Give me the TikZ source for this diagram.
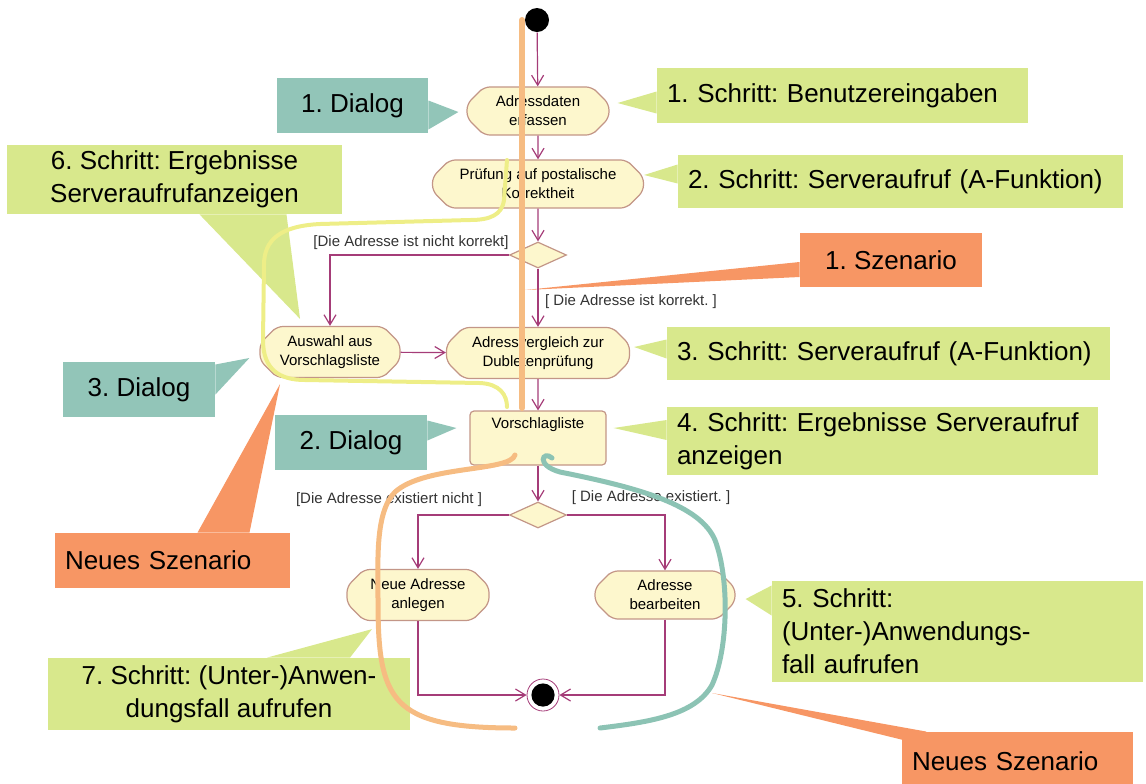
\documentclass[tikz,border=0pt]{standalone}
\usepackage{fontspec}
\setmainfont{Liberation Sans}
\usepackage{tikz}
\usetikzlibrary{
  shapes.geometric,
  shapes.misc,
  arrows.meta,
  positioning,
  calc,
  backgrounds
}
\frenchspacing
\definecolor{FlowPurple}{RGB}{165, 60, 120}
\definecolor{ActionFill}{RGB}{253, 247, 205}
\definecolor{ActionBorder}{RGB}{195, 150, 135}
\definecolor{DialogTeal}{RGB}{146, 197, 184}
\definecolor{StepGreen}{RGB}{216, 232, 140}
\definecolor{ScenarioOrange}{RGB}{247, 150, 100}
\definecolor{PathOrange}{RGB}{246, 188, 130}
\definecolor{PathYellow}{RGB}{238, 238, 135}
\definecolor{PathTeal}{RGB}{140, 195, 180}
\tikzset{
    action/.style={chamfered rectangle, chamfered rectangle xsep=5pt, rounded corners=3pt,
        draw=ActionBorder, fill=ActionFill, line width=0.6pt, align=center,
        font=\fontsize{7.5}{9.5}\selectfont, inner sep=1pt},
    decision/.style={diamond, aspect=2.2, draw=ActionBorder, fill=ActionFill, line width=0.6pt,
        minimum width=28.5pt, minimum height=13pt, inner sep=0pt},
    flow/.style={draw=FlowPurple, line width=0.6pt, -{Straight Barb[length=5pt, width=6pt]}},
    guard/.style={font=\fontsize{7.5}{9}\selectfont, text=black!80, inner sep=0pt},
    callout/.style={rectangle, inner xsep=5pt, inner ysep=2pt, font=\fontsize{13}{16.5}\selectfont},
    dialogbox/.style={callout, fill=DialogTeal, align=center},
    stepbox/.style={callout, fill=StepGreen, align=left},
    scenariobox/.style={callout, fill=ScenarioOrange, align=left},
    scenariopath/.style={line width=#1, line cap=round}
}

\begin{document}
\begin{tikzpicture}[x=0.5pt, y=-0.5pt]
\useasboundingbox (0,0) rectangle (1146,783);

\node[circle, fill=black, minimum size=12pt, inner sep=0pt] (start) at (537,20) {};
\node[action, minimum width=71pt, minimum height=19pt] (a1) at (538,111) {Adressdaten\\erfassen};
\node[action, minimum width=105.5pt, minimum height=19pt] (a2) at (538,184) {Prüfung auf postalische\\Korrektheit};
\node[decision] (dec1) at (538,255) {};
\node[action, minimum width=91.5pt, minimum height=20pt] (a3) at (538,353) {Adressvergleich zur\\Dubletenprüfung};
\node[action, minimum width=70pt, minimum height=20pt] (a4) at (330,352) {Auswahl aus\\Vorschlagsliste};
\node[rectangle, rounded corners=2pt, draw=ActionBorder, fill=ActionFill, line width=0.6pt,
    minimum width=68pt, inner ysep=3pt, text height=5.5pt, text depth=15.5pt,
    font=\fontsize{7.5}{9.5}\selectfont] (liste) at (538,438) {Vorschlagliste};
\node[decision] (dec2) at (538,515) {};
\node[action, minimum width=71pt, minimum height=19.5pt] (a5) at (418,595) {Neue Adresse\\anlegen};
\node[action, minimum width=70pt, minimum height=19.5pt] (a6) at (665,595) {Adresse\\bearbeiten};
\node[circle, draw=FlowPurple, fill=white, minimum size=16pt, inner sep=0pt,
    path picture={\fill[black] (path picture bounding box.center) circle (5.8pt);}] (stop) at (543,695) {};

\draw[flow] (start) -- (a1);
\draw[flow] (a1) -- (a2);
\draw[flow] (a2) -- (dec1);
\draw[flow] (dec1) -- (a3);
\draw[flow] (dec1.west) -| (a4.north);
\draw[flow] (a4) -- (a3);
\draw[flow] (a3) -- (liste);
\draw[flow] (liste) -- (dec2);
\draw[flow] (dec2.west) -| (a5.north);
\draw[flow] (dec2.east) -| (a6.north);
\draw[flow] (a5.south) |- (stop);
\draw[flow] (a6.south) |- (stop);

\node[guard] (g1) at (411,243) {[Die Adresse ist nicht korrekt]};
\node[guard] (g2) at (631,302) {[ Die Adresse ist korrekt. ]};
\node[guard] (g3) at (389,500) {[Die Adresse existiert nicht ]};
\node[guard] (g4) at (651,498) {[ Die Adresse existiert. ]};

\node[dialogbox, minimum width=75.5pt, minimum height=27.5pt] (dlg1) at (352.5,105.5) {1. Dialog};
\node[dialogbox, minimum width=76pt, minimum height=27.5pt] (dlg2) at (351,442.5) {2. Dialog};
\node[dialogbox, minimum width=76pt, minimum height=27.5pt] (dlg3) at (139,389.5) {3. Dialog};
\node[stepbox, text width=175.5pt, minimum height=27.5pt] (sch1) at (842.5,95.5) {1. Schritt: Benutzereingaben};
\node[stepbox, text width=212.5pt, minimum height=26.5pt] (sch2) at (900.5,181.5) {2. Schritt: Serveraufruf (A-Funktion)};
\node[stepbox, text width=211.5pt, minimum height=26.5pt] (sch3) at (888.5,353.5) {3. Schritt: Serveraufruf (A-Funktion)};
\node[stepbox, text width=205.5pt, minimum height=34pt] (sch4) at (882.5,441) {4. Schritt: Ergebnisse Serveraufruf\\anzeigen};
\node[stepbox, text width=175.5pt, minimum height=50.5pt] (sch5) at (957.5,631.5) {5. Schritt:\\(Unter-)Anwendungs-\\fall aufrufen};
\node[stepbox, align=center, minimum width=167.5pt, minimum height=34.5pt] (sch6) at (174.5,179.5) {6. Schritt: Ergebnisse\\Serveraufrufanzeigen};
\node[stepbox, align=center, minimum width=181pt, minimum height=36pt] (sch7) at (229,694) {7. Schritt: (Unter-)Anwen-\\dungsfall aufrufen};
\node[scenariobox, align=center, minimum width=91pt, minimum height=27pt] (scen1) at (891,260) {1. Szenario};
\node[scenariobox, text width=107.5pt, minimum height=27.5pt] (scenL) at (172.5,560.5) {Neues Szenario};
\node[scenariobox, text width=105.5pt, minimum height=29pt] (scenR) at (1017.5,761) {Neues Szenario};

\coordinate (tipscen1) at (525,290);
\coordinate (tipscenR) at (712,693);

\begin{scope}[on background layer]
\fill[DialogTeal] ($(dlg1.east)+(0,-5)$) -- ($(a1.west)+(-8,1)$) -- ($(dlg1.east)+(0,24)$) -- cycle;
\fill[DialogTeal] ($(dlg2.east)+(0,-22)$) -- ($(liste.west)+(-13,-10)$) -- ($(dlg2.east)+(0,-2)$) -- cycle;
\fill[DialogTeal] ($(dlg3.east)+(0,-25)$) -- ($(a4.west)+(-10,6)$) -- ($(dlg3.east)+(0,5)$) -- cycle;
\fill[StepGreen] ($(sch1.west)+(0,-4)$) -- ($(a1.east)+(8,-8)$) -- ($(sch1.west)+(0,18)$) -- cycle;
\fill[StepGreen] ($(sch2.west)+(0,-17)$) -- ($(a2.east)+(0,-9)$) -- ($(sch2.west)+(0,2)$) -- cycle;
\fill[StepGreen] ($(sch3.west)+(0,-14)$) -- ($(a3.east)+(4,-6)$) -- ($(sch3.west)+(0,5)$) -- cycle;
\fill[StepGreen] ($(sch4.west)+(0,-21)$) -- ($(liste.east)+(7,-10)$) -- ($(sch4.west)+(0,-1)$) -- cycle;
\fill[StepGreen] ($(sch5.west)+(0,-46)$) -- ($(a6.east)+(10,4)$) -- ($(sch5.west)+(0,-16)$) -- cycle;
\fill[StepGreen] ($(sch6.south)+(25,0)$) -- ($(a4.north)+(-30,-7)$) -- ($(sch6.south)+(112,0)$) -- cycle;
\fill[StepGreen] ($(sch7.north)+(38,0)$) -- ($(a5.south)+(-46,8)$) -- ($(sch7.north)+(121,0)$) -- cycle;
\fill[ScenarioOrange] ($(scen1.west)+(0,2)$) -- (tipscen1) -- ($(scen1.west)+(0,17)$) -- cycle;
\fill[ScenarioOrange] ($(scenL.north)+(25,0)$) -- ($(a4.south)+(-50,6)$) -- ($(scenL.north)+(77,0)$) -- cycle;
\fill[ScenarioOrange] ($(scenR.north west)+(0,8)$) -- (tipscenR) -- ($(scenR.north west)+(25,0)$) -- cycle;
\end{scope}

\draw[PathOrange, scenariopath=3pt] (522,20) -- (522,408);
\draw[PathYellow, scenariopath=2pt] (507,160) -- (504,200) .. controls (502,215) and (490,220) .. (470,220)
    -- (320,224) .. controls (280,226) and (264,240) .. (264,265) -- (263,340)
    .. controls (263,370) and (280,380) .. (305,380) -- (480,383) .. controls (500,384) and (507,395) .. (507,407);
\draw[PathOrange, scenariopath=2.5pt] (515,455) .. controls (510,472) and (425,465) .. (395,492)
    .. controls (375,512) and (378,560) .. (378,600) .. controls (378,700) and (390,728) .. (515,728);
\draw[PathTeal, scenariopath=2.5pt] (552,458) .. controls (543,450) and (535,465) .. (560,472)
    .. controls (640,488) and (700,505) .. (715,540) .. controls (730,580) and (728,650) .. (712,685)
    .. controls (695,715) and (650,722) .. (600,728);
\end{tikzpicture}
\end{document}
